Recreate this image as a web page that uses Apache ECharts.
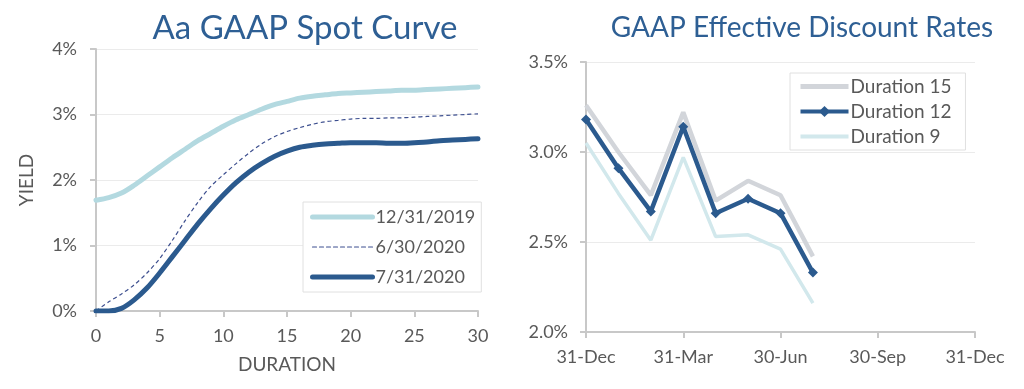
<!DOCTYPE html>
<html>
<head>
<meta charset="utf-8">
<script src="https://cdn.jsdelivr.net/npm/echarts@6/dist/echarts.min.js"></script>
<style>
html,body{margin:0;padding:0;background:#fff;}
#c{width:1024px;height:389px;}
</style>
</head>
<body>
<div id="c"></div>
<script>
// ---- Left chart data: Aa GAAP Spot Curve ----
const durations = [0,1,2,3,4,5,6,7,8,9,10,11,12,13,14,15,16,17,18,19,20,21,22,23,24,25,26,27,28,29,30];
const spot20191231 = [1.69,1.73,1.80,1.92,2.06,2.20,2.34,2.47,2.60,2.71,2.82,2.92,3.00,3.08,3.15,3.20,3.25,3.28,3.30,3.32,3.33,3.34,3.35,3.36,3.37,3.37,3.38,3.39,3.40,3.41,3.42];
const spot20200630 = [0.00,0.14,0.26,0.40,0.58,0.80,1.08,1.38,1.66,1.90,2.08,2.25,2.41,2.55,2.66,2.74,2.80,2.85,2.89,2.91,2.93,2.94,2.94,2.95,2.95,2.96,2.97,2.98,2.99,3.00,3.01];
const spot20200731 = [0.00,0.00,0.04,0.17,0.35,0.58,0.83,1.08,1.33,1.56,1.77,1.96,2.12,2.25,2.36,2.44,2.50,2.53,2.55,2.56,2.57,2.57,2.57,2.56,2.56,2.57,2.58,2.60,2.61,2.62,2.63];
const leftSeriesNames = ['12/31/2019','6/30/2020','7/31/2020'];

// ---- Right chart data: GAAP Effective Discount Rates (month offsets from 31-Dec-2019) ----
const monthIndex = [0,1,2,3,4,5,6,7];
const dur15 = [3.26,3.00,2.76,3.22,2.73,2.84,2.76,2.42];
const dur12 = [3.18,2.91,2.67,3.14,2.66,2.74,2.66,2.33];
const dur9  = [3.05,2.77,2.51,2.97,2.53,2.54,2.46,2.16];
const rightSeriesNames = ['Duration 15','Duration 12','Duration 9'];
const rightTickLabels = ['31-Dec','31-Mar','30-Jun','30-Sep','31-Dec'];

const pair = (xs, ys) => xs.map((x,i)=>[x, ys[i]]);

const FONT = 'Lato';
const TXT = '#595959';
const AXIS = '#C8C8C8';
const GRIDC = '#EBEBEB';
const noSym = {opacity:0};
const leftLegendWidths = [5, 1.2, 5];
const rightLegendWidths = [5, 4, 4];

const chart = echarts.init(document.getElementById('c'), null, {renderer:'canvas'});
chart.setOption({
  animation:false,
  backgroundColor:'#fff',
  textStyle:{fontFamily:FONT},
  title:[
    {text:'Aa GAAP Spot Curve', left:300, top:7, textAlign:'center',
     textStyle:{fontFamily:FONT, fontSize:33, fontWeight:'normal', color:'#2E5F94'}},
    {text:'GAAP Effective Discount Rates', left:797, top:9, textAlign:'center',
     textStyle:{fontFamily:FONT, fontSize:28, fontWeight:'normal', color:'#2E5F94'}}
  ],
  legend:[
    {data:leftSeriesNames.map((n,i)=>({name:n, itemStyle:noSym, lineStyle:{width:leftLegendWidths[i], cap:'round'}})),
     orient:'vertical', left:303, top:202,
     padding:[6,6,6,7], itemGap:12, itemWidth:60, itemHeight:19,
     borderColor:'#E0E0E0', borderWidth:1, backgroundColor:'#fff',
     textStyle:{fontFamily:FONT, fontSize:18, color:TXT, padding:[0,0,0,-2]}},
    {data:rightSeriesNames.map((n,i)=>i===1?{name:n, lineStyle:{width:rightLegendWidths[i]}}:{name:n, itemStyle:noSym, lineStyle:{width:rightLegendWidths[i]}}),
     orient:'vertical', left:790, top:73,
     padding:[4,14,4,8], itemGap:6, itemWidth:48, itemHeight:14,
     borderColor:'#E0E0E0', borderWidth:1, backgroundColor:'#fff',
     textStyle:{fontFamily:FONT, fontSize:19, color:TXT, padding:[0,0,0,-3]}}
  ],
  grid:[
    {left:96, right:546, top:49, bottom:78, containLabel:false},
    {left:586, right:49, top:62, bottom:57, containLabel:false}
  ],
  xAxis:[
    {type:'value', gridIndex:0, min:0, max:30, interval:5,
     name:'DURATION', nameLocation:'middle', nameGap:44,
     nameTextStyle:{fontFamily:FONT, fontSize:19, color:TXT},
     axisLine:{show:true, lineStyle:{color:AXIS, width:2}},
     axisTick:{show:true, length:6, lineStyle:{color:AXIS, width:2}},
     axisLabel:{fontFamily:FONT, fontSize:18, color:TXT, margin:16},
     splitLine:{show:false}},
    {type:'value', gridIndex:1, min:0, max:12, interval:3,
     axisLine:{show:true, lineStyle:{color:AXIS, width:2}},
     axisTick:{show:true, length:6, lineStyle:{color:AXIS, width:2}},
     axisLabel:{fontFamily:FONT, fontSize:18, color:TXT, margin:16,
       formatter:(v)=>rightTickLabels[Math.round(v/3)]},
     splitLine:{show:false}}
  ],
  yAxis:[
    {type:'value', gridIndex:0, min:0, max:4, interval:1,
     name:'YIELD', nameLocation:'middle', nameGap:60, nameRotate:90,
     nameTextStyle:{fontFamily:FONT, fontSize:19, color:TXT},
     axisLine:{show:true, lineStyle:{color:AXIS, width:2}},
     axisTick:{show:true, length:6, lineStyle:{color:AXIS, width:2}},
     axisLabel:{fontFamily:FONT, fontSize:18, color:TXT, margin:19, formatter:'{value}%'},
     splitLine:{show:true, lineStyle:{color:GRIDC, width:1}}},
    {type:'value', gridIndex:1, min:2.0, max:3.5, interval:0.5,
     axisLine:{show:true, lineStyle:{color:AXIS, width:2}},
     axisTick:{show:true, length:6, lineStyle:{color:AXIS, width:2}},
     axisLabel:{fontFamily:FONT, fontSize:18, color:TXT, margin:18, formatter:(v)=>v.toFixed(1)+'%'},
     splitLine:{show:true, lineStyle:{color:GRIDC, width:1}}}
  ],
  series:[
    {name:leftSeriesNames[0], type:'line', xAxisIndex:0, yAxisIndex:0, smooth:0.3,
     showSymbol:false, symbol:'none', data:pair(durations, spot20191231),
     lineStyle:{color:'#B3D9E0', width:5, cap:'round'}, itemStyle:{color:'#B3D9E0'}},
    {name:leftSeriesNames[1], type:'line', xAxisIndex:0, yAxisIndex:0, smooth:0.3,
     showSymbol:false, symbol:'none', data:pair(durations, spot20200630),
     lineStyle:{color:'#3D4F8F', width:1.2, type:[4,3]}, itemStyle:{color:'#3D4F8F'}},
    {name:leftSeriesNames[2], type:'line', xAxisIndex:0, yAxisIndex:0, smooth:0.3,
     showSymbol:false, symbol:'none', data:pair(durations, spot20200731),
     lineStyle:{color:'#2B5A8E', width:5, cap:'round'}, itemStyle:{color:'#2B5A8E'}},

    {name:rightSeriesNames[0], type:'line', xAxisIndex:1, yAxisIndex:1, symbol:'none',
     data:pair(monthIndex, dur15),
     lineStyle:{color:'#D2D5DA', width:4.5}, itemStyle:{color:'#D2D5DA'}},
    {name:rightSeriesNames[1], type:'line', xAxisIndex:1, yAxisIndex:1, symbol:'diamond', symbolSize:10,
     data:pair(monthIndex, dur12),
     lineStyle:{color:'#2B5A8E', width:4.5}, itemStyle:{color:'#2B5A8E'}},
    {name:rightSeriesNames[2], type:'line', xAxisIndex:1, yAxisIndex:1, symbol:'none',
     data:pair(monthIndex, dur9),
     lineStyle:{color:'#D2E8EC', width:3.5}, itemStyle:{color:'#D2E8EC'}}
  ]
});
</script>
</body>
</html>
